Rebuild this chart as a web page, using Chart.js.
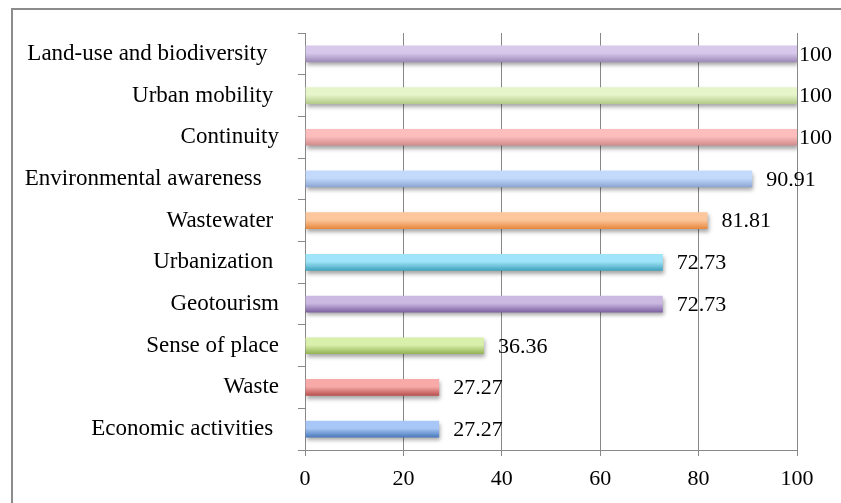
<!DOCTYPE html>
<html><head><meta charset="utf-8">
<script src="https://cdn.jsdelivr.net/npm/chart.js@4/dist/chart.umd.min.js"></script>
<style>html,body{margin:0;padding:0;background:#fff}#wrap{width:841px;height:503px;position:relative}</style>
</head><body><div id="wrap"><canvas id="c" width="841" height="503"></canvas></div>
<script>
const categories = ["Land-use and biodiversity  ","Urban mobility ","Continuity","Environmental awareness   ","Wastewater ","Urbanization ","Geotourism","Sense of place","Waste","Economic activities "];
const values = [100,100,100,90.91,81.81,72.73,72.73,36.36,27.27,27.27];
const xTicks = [0,20,40,60,80,100];
const topColors = ["#d7c8ec","#e6f6ca","#fcbdbc","#c4dafc","#fcc79c","#9fe4f8","#cbb9e2","#d9efac","#f7aaa8","#a9c7f6"];
const bottomColors = ["#9c88b6","#b3ca8a","#cf8b8a","#88a4d2","#e7863b","#3ea2bc","#7c60a0","#91b252","#b64e4b","#4878ba"];

const frame = {
  id:'frame',
  beforeDraw(chart){const c=chart.ctx;c.save();c.fillStyle='#fff';c.fillRect(0,0,chart.width,chart.height);
    c.strokeStyle='#8c8c8c';c.lineWidth=2;c.strokeRect(12,9,900,600);c.restore();},
  beforeDatasetsDraw(chart){const c=chart.ctx;c.save();c.shadowColor='rgba(0,0,0,0.35)';c.shadowBlur=4;c.shadowOffsetY=3;c.shadowOffsetX=1;},
  afterDatasetsDraw(chart){const c=chart.ctx;c.restore();
    const meta=chart.getDatasetMeta(0);c.save();c.font='22px "Liberation Serif"';c.fillStyle='#000';c.textBaseline='middle';c.textAlign='left';
    meta.data.forEach((bar,i)=>{const t=String(values[i]);const w=c.measureText(t).width;let x=bar.x+14;const lim=832-w;if(x>lim)x=Math.max(bar.x+1,lim);c.fillText(t,x,bar.y+1);});
    c.restore();}
};

function grad(ctx){
  const chart=ctx.chart;const y=chart.scales&&chart.scales.y;const i=ctx.dataIndex;
  if(!y||i===undefined||!isFinite(y.getPixelForValue(i)))return bottomColors[i||0];
  const cy=y.getPixelForValue(i);const h=y.height/categories.length*0.4/2;
  const g=chart.ctx.createLinearGradient(0,cy-h,0,cy+h);
  g.addColorStop(0,topColors[i]);g.addColorStop(0.45,topColors[i]);g.addColorStop(1,bottomColors[i]);
  return g;
}

new Chart(document.getElementById('c'),{
  type:'bar',
  data:{labels:categories,datasets:[{data:values,backgroundColor:grad,borderWidth:0,barPercentage:0.4,categoryPercentage:1}]},
  options:{
    indexAxis:'y',responsive:false,animation:false,
    layout:{padding:{left:0,right:44,top:33,bottom:0}},
    plugins:{legend:{display:false},tooltip:{enabled:false}},
    scales:{
      x:{min:0,max:100,afterBuildTicks(s){s.ticks=xTicks.map(v=>({value:v}));},
        afterFit(s){s.height=53;},
        grid:{color:'#888',lineWidth:1,tickLength:6,drawTicks:true},
        border:{color:'#888',width:1},
        ticks:{color:'#000',font:{family:'Liberation Serif',size:22},padding:10,maxRotation:0}},
      y:{afterFit(s){s.width=305;},
        grid:{offset:true,drawOnChartArea:false,color:'#888',tickLength:7},
        border:{color:'#888',width:1},
        ticks:{color:'#000',font:{family:'Liberation Serif',size:23},padding:19}}
    }
  },
  plugins:[frame]
});
</script></body></html>
